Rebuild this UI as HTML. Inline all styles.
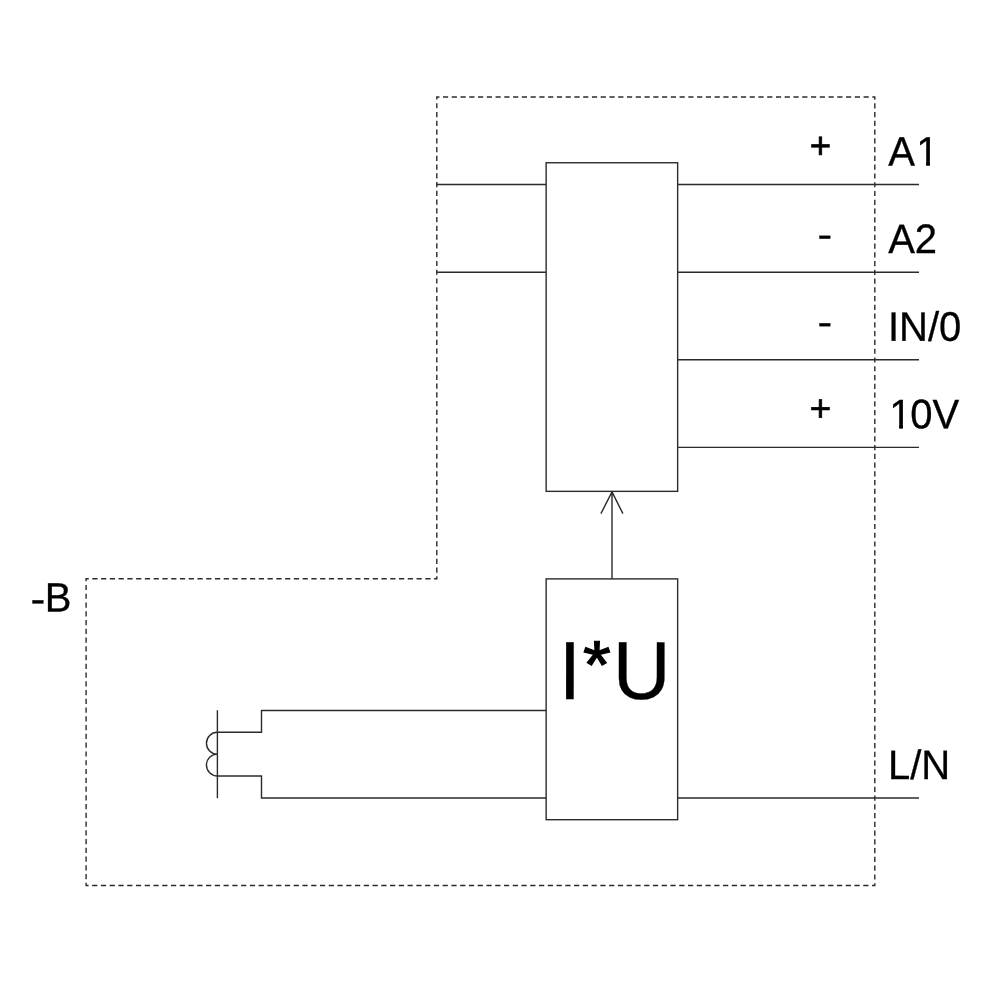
<!DOCTYPE html>
<html>
<head>
<meta charset="utf-8">
<title>Diagram</title>
<style>
html,body{margin:0;padding:0;background:#fff;}
body{width:1000px;height:1000px;overflow:hidden;}
svg{display:block;will-change:transform;}
text{font-family:"Liberation Sans",sans-serif;fill:#000;stroke:#000;stroke-width:0.3px;}
.l{fill:none;stroke:#2b2b2b;stroke-width:1.4;stroke-linecap:butt;stroke-linejoin:miter;}
.d{fill:none;stroke:#2b2b2b;stroke-width:1.4;stroke-dasharray:5.2 3.56;stroke-dashoffset:2.6;}
text.p{stroke-width:0.8px;}
</style>
</head>
<body>
<svg width="1000" height="1000" viewBox="0 0 1000 1000">
<rect width="1000" height="1000" fill="#fff"/>
<!-- dashed outline -->
<path class="d" pathLength="3153.6" d="M436.8 97 H874.8 V885.55 H86.1 V578.8 H436.8 Z"/>
<!-- upper box -->
<rect class="l" x="546.15" y="162.75" width="131.5" height="328.6"/>
<!-- lower box -->
<rect class="l" x="546.15" y="578.9" width="131.5" height="240.8"/>
<!-- left stubs -->
<path class="l" d="M436.8 184.55 H546.15 M436.8 272.2 H546.15"/>
<!-- right terminals -->
<path class="l" d="M677.65 184.55 H919 M677.65 272.2 H919 M677.65 359.8 H919 M677.65 447.4 H919 M677.65 798.05 H919"/>
<!-- arrow -->
<path class="l" style="stroke-linejoin:bevel" d="M612 578.9 V492 M600.9 513.6 L612 491.9 L622.9 513.6"/>
<!-- coil wiring -->
<path class="l" d="M546.15 710.45 H261.5 V732.2 H217.4 M546.15 798.05 H261.5 V776.05 H217.4 M217.4 710.2 V798.2"/>
<path class="l" d="M217.4 732.2 A10.96 10.96 0 0 0 217.4 754.12 A10.96 10.96 0 0 0 217.4 776.05"/>
<!-- labels -->
<g class="t" font-size="40">
<text transform="translate(888.2 165.5) rotate(0.05) scale(1 1.03)">A<tspan dx="1.3">1</tspan></text>
<text transform="translate(888.2 253.1) rotate(0.05) scale(1 1.03)">A2</text>
<text transform="translate(887.9 340.7) rotate(0.05) scale(1 1.03)">IN/0</text>
<text transform="translate(887.9 428.3) rotate(0.05) scale(1 1.03)"><tspan dx="1.3">1</tspan><tspan dx="-1.3">0V</tspan></text>
<text transform="translate(888 778.9) rotate(0.05) scale(1 1.03)">L/N</text>
<text class="p" transform="translate(809.8 158) rotate(0.05) scale(0.916)">+</text>
<text transform="translate(817.6 247.4) rotate(0.05) scale(1.1 0.97)">-</text>
<text transform="translate(817.6 335) rotate(0.05) scale(1.1 0.97)">-</text>
<text class="p" transform="translate(809.8 420.8) rotate(0.05) scale(0.916)">+</text>
<text transform="translate(30.5 611.6) rotate(0.05) scale(1 1.03)"><tspan dy="1.2" textLength="14.8" lengthAdjust="spacingAndGlyphs">-</tspan><tspan dy="-1.2" dx="-0.6">B</tspan></text>
</g>
<text class="t" transform="translate(558.7 699) rotate(0.05) scale(1 1.03)" font-size="80">I<tspan font-size="66" dx="2.1" dy="-10.6" textLength="27.74" lengthAdjust="spacingAndGlyphs" stroke-width="1.2">*</tspan><tspan dx="2" dy="10.6">U</tspan></text>
<!-- hide base serif of the digit 1 (Arial-style numeral) -->
<path fill="#fff" d="M917 160.9H926.05V167H917Z M929.95 160.9H938.5V167H929.95Z M890 423.8H899.07V430H890Z M902.97 423.8H911.5V430H902.97Z"/>
</svg>
</body>
</html>
